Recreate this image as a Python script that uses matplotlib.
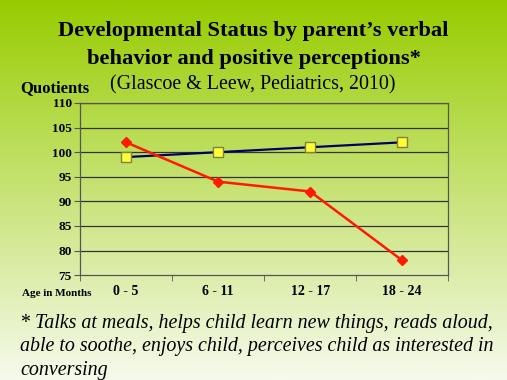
import matplotlib.pyplot as plt
import numpy as np

# data
ages = ["0 - 5", "6 - 11", "12 - 17", "18 - 24"]
positive = [99, 100, 101, 102]
negative = [102, 94, 92, 78]
yticks = [75, 80, 85, 90, 95, 100, 105, 110]

plt.rcParams['font.family'] = ['Liberation Serif', 'DejaVu Serif']

fig = plt.figure(figsize=(5.07, 3.80), dpi=100)

# green gradient background
bg = fig.add_axes([0, 0, 1, 1])
top = np.array([152, 204, 0]) / 255
bot = np.array([246, 250, 236]) / 255
t = np.linspace(0, 1, 256)[:, None]
grad = top * (1 - t[..., None]) + bot * t[..., None]
grad = np.repeat(grad, 2, axis=1)
bg.imshow(grad, aspect='auto', extent=[0, 1, 0, 1])
bg.set_axis_off()

ax = fig.add_axes([0.158, 0.276, 0.726, 0.453])
ax.patch.set_alpha(0)
x = np.arange(len(ages))
ax.plot(x, positive, color='#000066', lw=1.6, marker='s', ms=7,
        mfc='#ffff33', mec='#808040', mew=1, zorder=3)
ax.plot(x, negative, color='#ff1a00', lw=1.8, marker='D', ms=5,
        mfc='#ff1a00', mec='#ff1a00', zorder=3)

ax.set_ylim(75, 110)
ax.set_xlim(-0.5, 3.5)
ax.set_yticks(yticks)
ax.set_yticklabels([str(v) for v in yticks], fontweight='bold', fontsize=9.5)
for v in yticks[1:]:
    ax.axhline(v, color='#333333', lw=0.9, zorder=1)
ax.set_xticks(x)
ax.set_xticklabels(ages, fontweight='bold', fontsize=10)
ax.tick_params(axis='x', length=0, pad=7)
ax.set_xticks(np.arange(-0.5, 4, 1), minor=True)
ax.tick_params(axis='x', which='minor', length=4, color='#555555')
ax.tick_params(axis='y', length=4, color='#555555', pad=2)
for s in ax.spines.values():
    s.set_color('#555555')
    s.set_linewidth(0.9)

fig.text(0.5, 0.882, "Developmental Status by parent\u2019s verbal\nbehavior and positive perceptions*",
         ha='center', va='center', fontsize=16.2, fontweight='bold', linespacing=1.5)
fig.text(0.498, 0.778, "(Glascoe & Leew, Pediatrics, 2010)", ha='center', va='center', fontsize=14.4)
fig.text(0.04, 0.768, "Quotients", ha='left', va='center', fontsize=12, fontweight='bold')
fig.text(0.043, 0.228, "Age in Months", ha='left', va='center', fontsize=8, fontweight='bold')
fig.text(0.04, 0.087, "* Talks at meals, helps child learn new things, reads aloud,\n"
         "able to soothe, enjoys child, perceives child as interested in\nconversing",
         ha='left', va='center', fontsize=14.4, style='italic', linespacing=1.3)

fig.savefig("out.png", dpi=100)
